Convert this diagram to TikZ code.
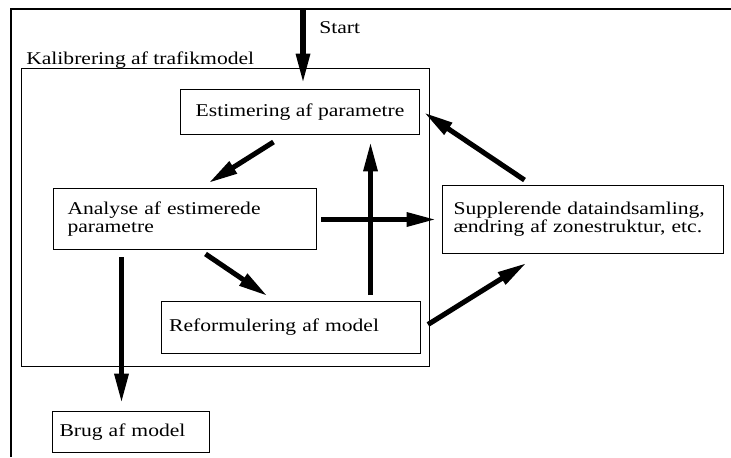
\documentclass[tikz,border=0pt]{standalone}
\usepackage{fontspec}
\setmainfont{Liberation Serif}[FakeStretch=1.2]
\usetikzlibrary{arrows.meta,calc}
\begin{document}
\begin{tikzpicture}[x=0.75pt,y=-0.75pt,
  every node/.style={font=\fontsize{13.5pt}{15pt}\selectfont},
  box/.style={draw, line width=0.75pt, anchor=north west, inner ysep=0pt},
  arr/.style={line width=3.8pt, -{Triangle[length=22pt,width=10pt]}},
  frame/.style={line width=1.5pt}]
\useasboundingbox (0,0) rectangle (731,457);
% page frame
\draw[frame] (11,457) |- (731,9);
% calibration group
\node[box, inner xsep=0pt, minimum width=306pt, minimum height=223.5pt] (calib) at (21,68) {};
\node[anchor=base west, inner sep=0pt] (calibl) at (26,64) {Kalibrering af trafikmodel};
% start
\coordinate (s0) at (303,10);
\node[anchor=base west, inner sep=0pt] (startl) at (319,33) {Start};
% boxes
\node[box, minimum width=179.25pt, minimum height=33.75pt, align=center] (est) at (180,89) {Estimering af parametre};
\node[box, inner xsep=10.5pt, text width=176.25pt, minimum height=45.75pt, align=left,
      font=\fontsize{13.5pt}{14pt}\selectfont] (ana) at (53,188) {Analyse af estimerede\\parametre};
\node[box, inner xsep=5.7pt, text width=182.85pt, minimum height=39pt, align=left] (ref) at (161,301) {Reformulering af model};
\node[box, inner xsep=8.25pt, text width=194.25pt, minimum height=51pt, align=left,
      font=\fontsize{13.5pt}{11.6pt}\selectfont] (sup) at (442,185) {Supplerende dataindsamling,\\ændring af zonestruktur, etc.};
\node[box, inner xsep=5.25pt, text width=107.25pt, minimum height=30.75pt, align=left] (brug) at (52,411) {Brug af model};
% arrows
\draw[arr] (s0) -- ([yshift=4.5pt]s0 |- est.north);
\draw[arr] ([shift={(-26.5,7)}]est.south) -- ([shift={(23.5,-5)}]ana.north);
\draw[arr] ([shift={(79.5,-6)}]ref.north) -- ([shift={(70.5,7)}]est.south);
\draw[arr] ([shift={(4,0.5)}]ana.east) -- ([shift={(-6,0)}]sup.west);
\draw[arr] ([shift={(20.5,4)}]ana.south) -- ([shift={(-23.5,-5)}]ref.north);
\draw[arr] ([shift={(-58.5,-5)}]sup.north) -- ([shift={(4,0.5)}]est.east);
\draw[arr] ([shift={(7,-3)}]ref.east) -- ([shift={(-56.5,9)}]sup.south);
\draw[arr] ([shift={(-63.5,7)}]ana.south) -- ([shift={(-9.5,-8)}]brug.north);
\end{tikzpicture}
\end{document}
